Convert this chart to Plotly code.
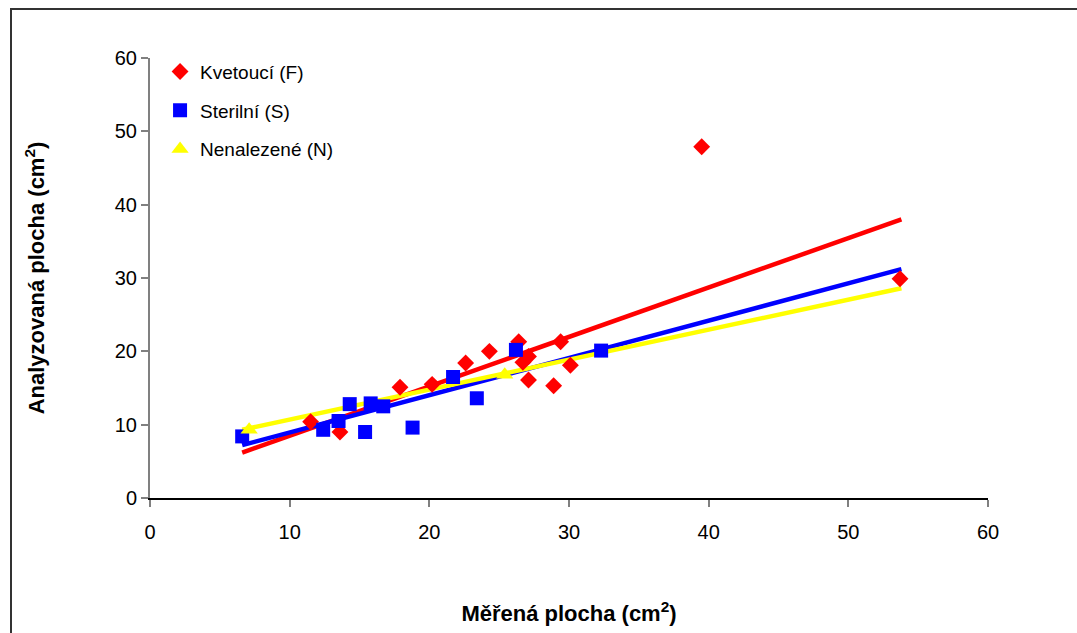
import plotly.graph_objects as go

# Kvetoucí (F)
f_x = [11.5, 13.6, 17.9, 20.2, 22.6, 24.3, 26.4, 26.7, 27.1, 27.1, 28.9, 29.4, 30.1, 39.5, 53.7]
f_y = [10.4, 9.0, 15.1, 15.5, 18.4, 20.0, 21.3, 18.5, 19.3, 16.1, 15.3, 21.3, 18.1, 47.9, 29.9]

# Sterilní (S)
s_x = [6.6, 12.4, 13.5, 14.3, 15.4, 15.8, 16.7, 18.8, 21.7, 23.4, 26.2, 32.3]
s_y = [8.4, 9.3, 10.5, 12.8, 9.0, 12.9, 12.5, 9.6, 16.5, 13.6, 20.2, 20.1]

# Nenalezené (N)
n_x = [7.1, 25.4]
n_y = [9.3, 16.8]

# Linear trend lines (endpoints)
trend_x = [6.6, 53.8]
f_trend = [6.2, 38.0]
s_trend = [7.2, 31.2]
n_trend = [9.3, 28.6]

x_ticks = [0, 10, 20, 30, 40, 50, 60]
y_ticks = [0, 10, 20, 30, 40, 50, 60]

RED = "#FF0000"
BLUE = "#0000FF"
YELLOW = "#FFFF00"
FONT = "Liberation Sans, Arial, sans-serif"

fig = go.Figure()

for tx, ty, col in [(trend_x, f_trend, RED), (trend_x, s_trend, BLUE), (trend_x, n_trend, YELLOW)]:
    fig.add_trace(go.Scatter(x=tx, y=ty, mode="lines", line=dict(color=col, width=4.5),
                             showlegend=False, hoverinfo="skip"))

fig.add_trace(go.Scatter(x=f_x, y=f_y, mode="markers", name="Kvetoucí (F)", legendgroup="f",
                         marker=dict(symbol="diamond", size=13, color=RED, line=dict(width=0))))
fig.add_trace(go.Scatter(x=s_x, y=s_y, mode="markers", name="Sterilní (S)", legendgroup="s",
                         marker=dict(symbol="square", size=14, color=BLUE, line=dict(width=0))))
fig.add_trace(go.Scatter(x=n_x, y=n_y, mode="markers", name="Nenalezené (N)", legendgroup="n",
                         marker=dict(symbol="triangle-up", size=15, color=YELLOW, line=dict(width=0))))

# Outer chart frame
L, R, T, B = 150, 89, 58, 135
W, H = 1077, 633
pw, ph = W - L - R, H - T - B
fig.add_shape(type="rect", xref="paper", yref="paper",
              x0=(11 - L) / pw, x1=(1090 - L) / pw,
              y0=(H - B - 650) / ph, y1=(H - B - 9) / ph,
              line=dict(color="#333333", width=2), fillcolor="rgba(0,0,0,0)", layer="below")

fig.update_layout(
    width=W, height=H,
    margin=dict(l=L, r=R, t=T, b=B),
    paper_bgcolor="white", plot_bgcolor="white",
    font=dict(family=FONT, size=20, color="black"),
    showlegend=True,
    legend=dict(x=0.012, y=1.012, xanchor="left", yanchor="top",
                font=dict(size=19, family=FONT), bgcolor="rgba(0,0,0,0)",
                tracegroupgap=11, itemsizing="trace"),
    xaxis=dict(range=[0, 60], tickvals=x_ticks, ticktext=[str(v) for v in x_ticks],
               showgrid=False, zeroline=False, showline=True, linecolor="black", linewidth=1.5,
               ticks="outside", ticklen=7, tickcolor="#808080", tickwidth=2,
               tickfont=dict(size=20), ticklabelstandoff=8,
               title=dict(text="<b>Měřená plocha (cm<sup>2</sup>)</b>", font=dict(size=22), standoff=64)),
    yaxis=dict(range=[0, 60], tickvals=y_ticks, ticktext=[str(v) for v in y_ticks],
               showgrid=False, zeroline=False, showline=True, linecolor="#808080", linewidth=2,
               ticks="outside", ticklen=7, tickcolor="#808080", tickwidth=2,
               tickfont=dict(size=20),
               title=dict(text="<b>Analyzovaná plocha (cm<sup>2</sup>)</b>", font=dict(size=22), standoff=64)),
)

fig.write_html("out.html")
